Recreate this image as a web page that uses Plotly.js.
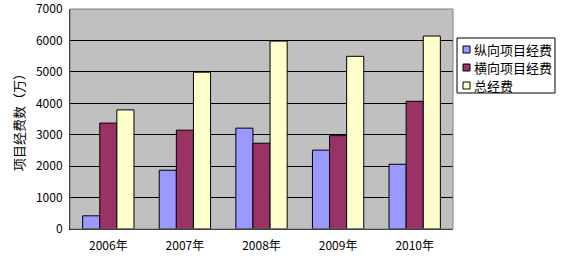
<!DOCTYPE html>
<html>
<head>
<meta charset="utf-8">
<script src="https://cdn.plot.ly/plotly-3.0.1.min.js"></script>
<style>html,body{margin:0;padding:0;background:#fff;}#chart{width:562px;height:261px;}</style>
</head>
<body>
<div id="chart"></div>
<script>
const categories = ["2006年", "2007年", "2008年", "2009年", "2010年"];
const verticalFunds = [420, 1870, 3210, 2510, 2060];
const horizontalFunds = [3370, 3145, 2730, 2970, 4065];
const totalFunds = [3790, 4990, 5980, 5495, 6140];
const seriesNames = ["纵向项目经费", "横向项目经费", "总经费"];
const yTicks = [0, 1000, 2000, 3000, 4000, 5000, 6000, 7000];

const font = "SimSun, 'Noto Sans CJK SC', sans-serif";
const colors = ["#9999ff", "#993366", "#ffffcc"];
const series = [verticalFunds, horizontalFunds, totalFunds];

const W = 562, H = 261;
const M = {l: 70, r: 109, t: 9, b: 32};
const pw = W - M.l - M.r, ph = H - M.t - M.b;
const px = x => (x - M.l) / pw;
const py = y => (H - M.b - y) / ph;

const data = series.map((vals, i) => ({
  type: "bar",
  x: categories,
  y: vals,
  name: seriesNames[i],
  marker: {color: colors[i], line: {color: "#000", width: 1}},
  hoverinfo: "none",
  showlegend: false
}));

// Manual legend (box, swatches, labels)
const shapes = [
  {type: "rect", xref: "paper", yref: "paper", x0: 0, x1: 1, y0: 0, y1: 1,
   line: {color: "#808080", width: 1}, fillcolor: "rgba(0,0,0,0)", layer: "above"},
  {type: "rect", xref: "paper", yref: "paper", x0: px(457), x1: px(555), y0: py(93), y1: py(38),
   line: {color: "#000", width: 1}, fillcolor: "#fff", layer: "above"}
];
const annotations = [];
const rowY = [49.5, 67.5, 85.5];
seriesNames.forEach((name, i) => {
  shapes.push({type: "rect", xref: "paper", yref: "paper",
    x0: px(463), x1: px(470), y0: py(rowY[i] + 3.5), y1: py(rowY[i] - 3.5),
    line: {color: "#000", width: 1}, fillcolor: colors[i], layer: "above"});
  annotations.push({xref: "paper", yref: "paper", x: px(472), y: py(rowY[i]),
    xanchor: "left", yanchor: "middle", text: name, showarrow: false,
    font: {size: 13, family: font, color: "#000"}});
});

const layout = {
  width: W, height: H,
  margin: M,
  paper_bgcolor: "#ffffff",
  plot_bgcolor: "#c0c0c0",
  barmode: "group",
  bargap: 0.33,
  bargroupgap: 0,
  font: {family: font, size: 12, color: "#000"},
  xaxis: {
    type: "category",
    showgrid: false,
    showline: true, linecolor: "#000", linewidth: 1,
    ticks: "", tickfont: {size: 12},
    ticklabelstandoff: 6
  },
  yaxis: {
    range: [0, 7001],
    tickvals: yTicks,
    ticktext: yTicks.map(String),
    showgrid: true, gridcolor: "#000", gridwidth: 1,
    showline: true, linecolor: "#000", linewidth: 1,
    zeroline: false,
    ticks: "", tickfont: {size: 12},
    ticklabelstandoff: 4,
    ticklabeloverflow: "allow",
    title: {text: "项目经费数（万）", font: {size: 13}, standoff: 8}
  },
  shapes: shapes,
  annotations: annotations,
  showlegend: false
};

Plotly.newPlot("chart", data, layout, {staticPlot: true, displayModeBar: false});
</script>
</body>
</html>
